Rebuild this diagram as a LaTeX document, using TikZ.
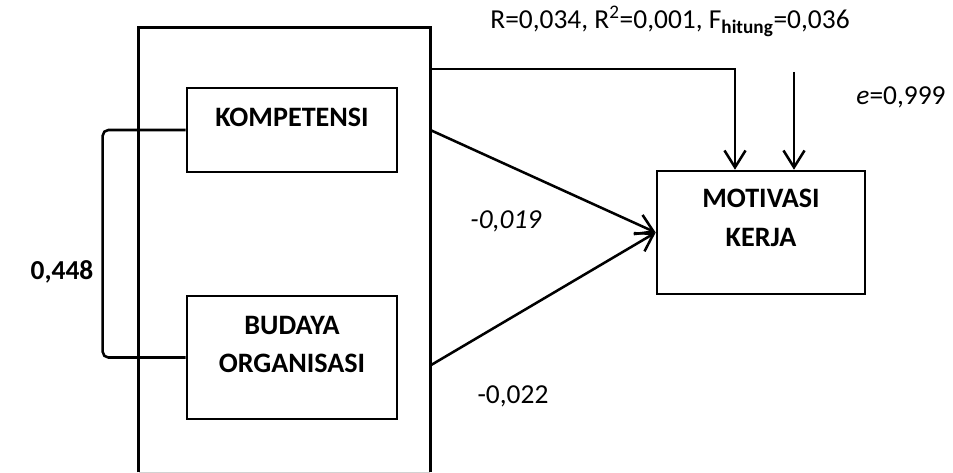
\documentclass[tikz,border=0pt]{standalone}
\usepackage{fontspec}
\setmainfont{Carlito}
\usetikzlibrary{arrows.meta}

\begin{document}
\begin{tikzpicture}[
	x=0.025cm, y=-0.025cm,
	font=\fontsize{19.5}{27}\selectfont,
	line width=1.8pt,
	box/.style={draw, align=center, font=\fontsize{20}{27.5}\selectfont\bfseries, inner sep=0pt},
	lbl/.style={inner sep=1pt},
	arr/.style={-{Straight Barb[length=12pt, width=15pt, line width=1.8pt]}}
]
\useasboundingbox (0,0) rectangle (953,473);

% kelompok variabel bebas
\node[minimum width=7.225cm, minimum height=11.05cm, inner sep=0pt] (X) at (284.5,250) {};
\draw (X.south west) |- (X.north east) -- (X.south east);
\draw[gray!35, line width=1pt] (X.south west) -- (X.south east);

% variabel
\node[box, minimum width=5.25cm, minimum height=2.1cm] (K) at (292,130) {KOMPETENSI\\[-10pt]\mbox{}};
\node[box, minimum width=5.25cm, minimum height=3.075cm] (B) at (292,357.5) {BUDAYA\\ORGANISASI\\[-9pt]\mbox{}};
\node[box, minimum width=5.2cm, minimum height=3.075cm] (M) at (761,232.5) {MOTIVASI\\KERJA\\[-7pt]\mbox{}};

% titik bantu
\coordinate (t) at (429,69);
\coordinate (e0) at (794,72);

% label
\node[lbl] (R) at (670,21) {R=0,034, R\textsuperscript{2}=0,001, F\textsubscript{\bfseries hitung}=0,036};
\node[lbl] (e) at (901,97) {\textit{e}=0,999};
\node[lbl] (r1) at (506,221) {\textit{-0,019}};
\node[lbl] (r2) at (513,396) {-0,022};
\node[lbl, font=\fontsize{19.5}{27}\selectfont\bfseries] (r) at (62,272) {0,448};

% panah
\draw[rounded corners=4pt] (K.west) -- ++(-83,0) |- (B.west);
\draw[arr] (t) -| ([xshift=-26*0.025cm]M.north);
\draw[arr] (e0) -- (e0 |- M.north);
\draw[arr] (X.east |- K) -- (M.west);
\draw[arr] (X.east |- B.center) ++(0,8) -- (M.west);
\end{tikzpicture}
\end{document}
